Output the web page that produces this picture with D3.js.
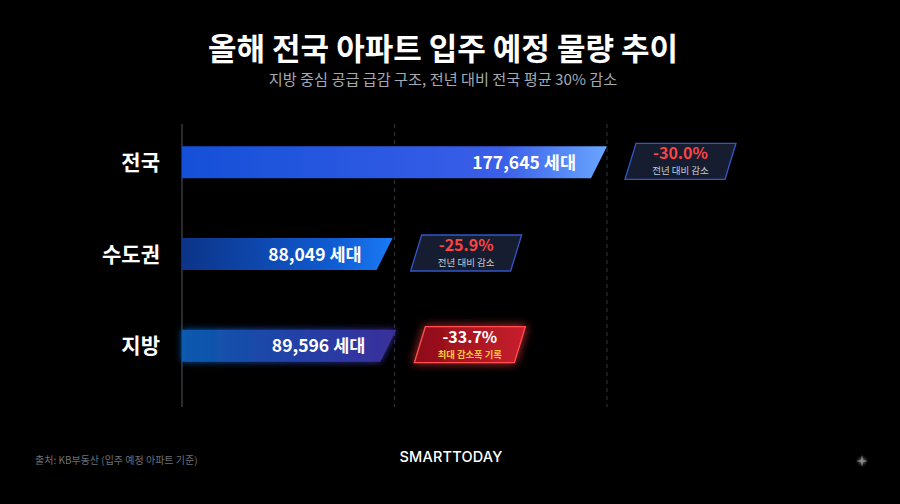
<!DOCTYPE html>
<html><head><meta charset="utf-8">
<script src="https://cdn.jsdelivr.net/npm/d3@7"></script>
<style>
html,body{margin:0;padding:0;background:#000;}
svg{display:block;font-family:"Noto Sans CJK KR","Noto Sans",sans-serif;}
</style></head>
<body>
<svg id="chart" width="900" height="504"></svg>
<script>
const categories = ["전국", "수도권", "지방"];
const values = [177645, 88049, 89596];
const changes = ["-30.0%", "-25.9%", "-33.7%"];
const badgeNotes = ["전년 대비 감소", "전년 대비 감소", "최대 감소폭 기록"];
const gridValues = [88822.5, 177645];
const titleText = "올해 전국 아파트 입주 예정 물량 추이";
const subtitleText = "지방 중심 공급 급감 구조, 전년 대비 전국 평균 30% 감소";
const sourceText = "출처: KB부동산 (입주 예정 아파트 기준)";
const logoText = "SMARTTODAY";

const svg = d3.select("#chart");
svg.append("rect").attr("width",900).attr("height",504).attr("fill","#000");

const defs = svg.append("defs");
const grads = [
  [["0%","#1550d8"],["75%","#3a5ee8"],["100%","#6aa6ff"]],
  [["0%","#0c3488"],["70%","#0f5ad0"],["100%","#1a7af5"]],
  [["0%","#0a5aae"],["60%","#263ea6"],["100%","#3a2f9a"]]
];
grads.forEach((stops,i)=>{
  const g = defs.append("linearGradient").attr("id","bg"+i).attr("x1","0%").attr("x2","100%");
  stops.forEach(s=>g.append("stop").attr("offset",s[0]).attr("stop-color",s[1]));
});
const rg = defs.append("linearGradient").attr("id","redg").attr("x1","0%").attr("x2","100%");
rg.append("stop").attr("offset","0%").attr("stop-color","#8c0c18");
rg.append("stop").attr("offset","100%").attr("stop-color","#c8202c");
const glow = defs.append("filter").attr("id","glowB").attr("x","-20%").attr("y","-50%").attr("width","140%").attr("height","200%");
glow.append("feGaussianBlur").attr("stdDeviation",3.5).attr("result","b");
const gm = glow.append("feMerge"); gm.append("feMergeNode").attr("in","b"); gm.append("feMergeNode").attr("in","SourceGraphic");
const glowR = defs.append("filter").attr("id","glowR").attr("x","-30%").attr("y","-60%").attr("width","160%").attr("height","220%");
glowR.append("feGaussianBlur").attr("stdDeviation",5).attr("result","b");
const gm2 = glowR.append("feMerge"); gm2.append("feMergeNode").attr("in","b"); gm2.append("feMergeNode").attr("in","SourceGraphic");
const spark = defs.append("radialGradient").attr("id","spark");
spark.append("stop").attr("offset","0%").attr("stop-color","#9a9a9a");
spark.append("stop").attr("offset","100%").attr("stop-color","#000").attr("stop-opacity",0);

// Title
svg.append("text").attr("x",443).attr("y",60).attr("text-anchor","middle")
  .attr("fill","#fff").attr("font-size",31).attr("font-weight",700).text(titleText);
svg.append("text").attr("x",443).attr("y",85).attr("text-anchor","middle")
  .attr("fill","#a4a9b4").attr("font-size",15.2).text(subtitleText);

const x = d3.scaleLinear().domain([0, d3.max(values)]).range([182, 607]);
const y = d3.scaleBand().domain(categories).range([116, 392]).paddingInner(0.65).paddingOuter(0.33);

// grid
const gridTop = 124, gridBot = 407;
svg.selectAll(".grid").data(gridValues).join("line")
  .attr("x1",d=>x(d)).attr("x2",d=>x(d)).attr("y1",gridTop).attr("y2",gridBot)
  .attr("stroke","#2e2e33").attr("stroke-width",1.2).attr("stroke-dasharray","4,4");
svg.append("line").attr("x1",x(0)).attr("x2",x(0)).attr("y1",gridTop).attr("y2",gridBot)
  .attr("stroke","#3a3a3f").attr("stroke-width",1.5);

const slant = 16;
categories.forEach((c,i)=>{
  const y0 = y(c), h = y.bandwidth(), x0 = x(0), x1 = x(values[i]);
  const g = svg.append("g");
  g.append("path")
    .attr("d",`M${x0},${y0}L${x1},${y0}L${x1-slant},${y0+h}L${x0},${y0+h}Z`)
    .attr("fill",`url(#bg${i})`)
    .attr("filter", i===2 ? "url(#glowB)" : null);
  g.append("text").attr("x",x1-31).attr("y",y0+h/2+6.5).attr("text-anchor","end")
    .attr("fill","#fff").attr("font-size",17.5).attr("font-weight",700)
    .text(d3.format(",")(values[i]) + " 세대");
  svg.append("text").attr("x",160).attr("y",y0+h/2+7.5).attr("text-anchor","end")
    .attr("fill","#fff").attr("font-size",21).attr("font-weight",700).text(c);

  // badge
  const bh = 36, bw = 100, bs = 11;
  const bx = x1 + 18, by = y0 + h/2 - bh/2 - 1;
  const isMax = i===2;
  svg.append("path")
    .attr("d",`M${bx+bs},${by}L${bx+bs+bw},${by}L${bx+bw},${by+bh}L${bx},${by+bh}Z`)
    .attr("fill", isMax ? "url(#redg)" : "#161d30")
    .attr("stroke", isMax ? "#ff5050" : "#3556c8")
    .attr("stroke-width",1.3)
    .attr("filter", isMax ? "url(#glowR)" : null);
  const cx = bx + bs/2 + bw/2;
  svg.append("text").attr("x",cx).attr("y",by+16).attr("text-anchor","middle")
    .attr("fill", isMax ? "#fff" : "#ff4242").attr("font-size",16).attr("font-weight",700)
    .text(changes[i]);
  svg.append("text").attr("x",cx).attr("y",by+31).attr("text-anchor","middle")
    .attr("fill", isMax ? "#ffc83a" : "#c4c8d0").attr("font-size",isMax?9.3:9.5)
    .attr("font-weight", isMax ? 700 : 400)
    .text(badgeNotes[i]);
});

// footer
svg.append("text").attr("x",35).attr("y",464).attr("fill","#6c7079").attr("font-size",10).text(sourceText);
svg.append("text").attr("x",451).attr("y",462).attr("text-anchor","middle")
  .attr("fill","#fff").attr("font-size",14.5).attr("font-weight",500)
  .attr("font-family","Inter, 'Noto Sans', sans-serif").attr("letter-spacing",0.2).text(logoText);
// sparkle
svg.append("circle").attr("cx",862).attr("cy",461).attr("r",7).attr("fill","url(#spark)");
svg.append("path").attr("d","M862,455 L863,460 L868,461 L863,462 L862,467 L861,462 L856,461 L861,460 Z").attr("fill","#8a8a8a");
</script>
</body></html>
